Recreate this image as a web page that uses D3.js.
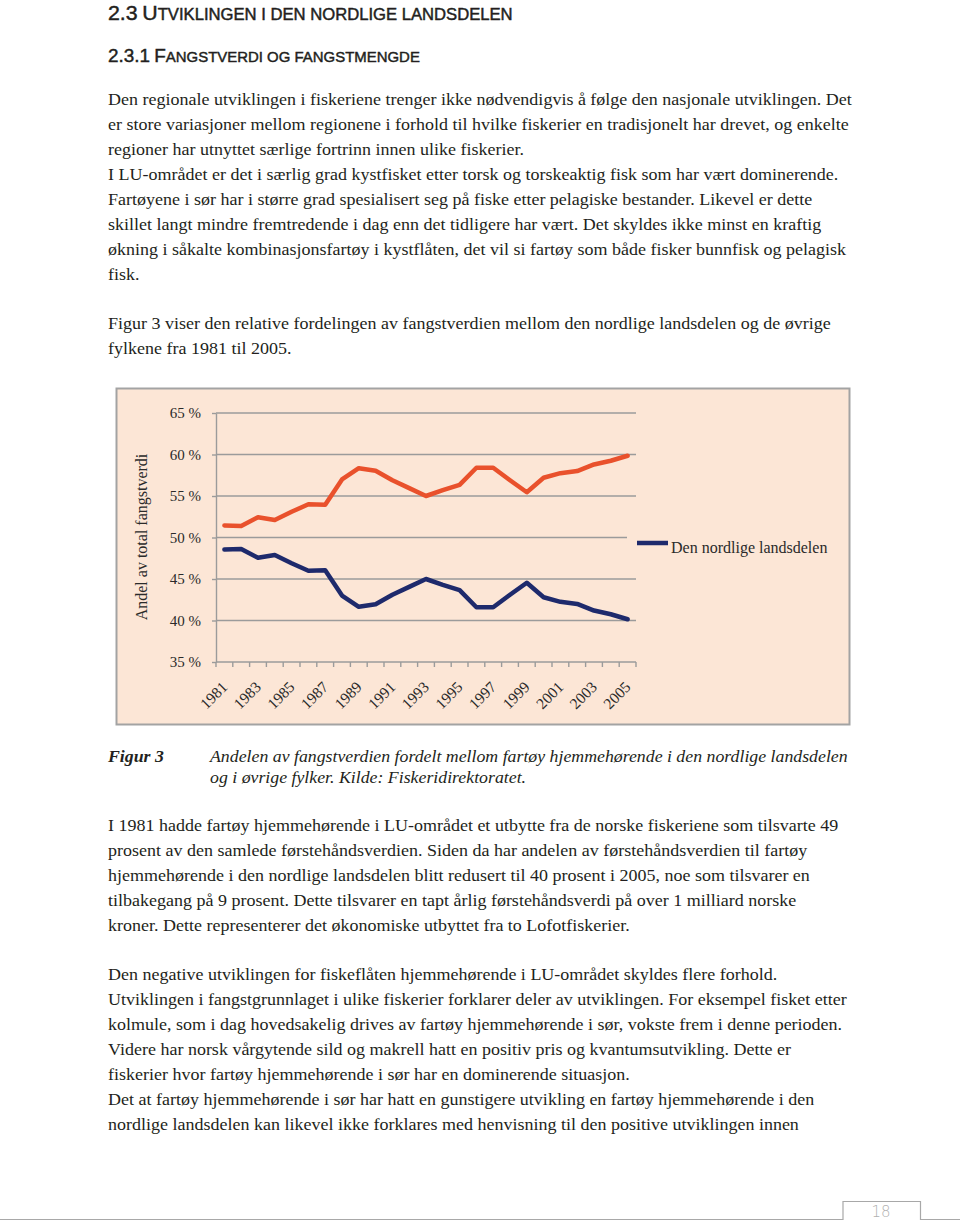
<!DOCTYPE html>
<html><head><meta charset="utf-8">
<script src="https://cdn.jsdelivr.net/npm/d3@7"></script>
<style>body{margin:0;background:#fff}svg{display:block}</style>
</head><body>
<svg id="page" width="960" height="1223"></svg>
<script>
// ---------- data ----------
const years = ["1981","1982","1983","1984","1985","1986","1987","1988","1989","1990","1991","1992","1993","1994","1995","1996","1997","1998","1999","2000","2001","2002","2003","2004","2005"];
const xTickLabels = ["1981","1983","1985","1987","1989","1991","1993","1995","1997","1999","2001","2003","2005"];
const yTicks = [35, 40, 45, 50, 55, 60, 65];
const seriesNorth = [48.55, 48.6, 47.55, 47.9, 46.9, 46.0, 46.05, 43.0, 41.65, 41.95, 43.1, 44.05, 45.0, 44.3, 43.65, 41.6, 41.6, 43.1, 44.55, 42.8, 42.25, 42.0, 41.2, 40.75, 40.15];
const seriesOther = [51.45, 51.4, 52.45, 52.1, 53.1, 54.0, 53.95, 57.0, 58.35, 58.05, 56.9, 55.95, 55.0, 55.7, 56.35, 58.4, 58.4, 56.9, 55.45, 57.2, 57.75, 58.0, 58.8, 59.25, 59.85];
const legendLabel = "Den nordlige landsdelen";
const yTitle = "Andel av total fangstverdi";

const heading1 = "2.3 Utviklingen i den nordlige landsdelen";
const heading2 = "2.3.1 Fangstverdi og fangstmengde";
const para1 = [
 "Den regionale utviklingen i fiskeriene trenger ikke nødvendigvis å følge den nasjonale utviklingen. Det",
 "er store variasjoner mellom regionene i forhold til hvilke fiskerier en tradisjonelt har drevet, og enkelte",
 "regioner har utnyttet særlige fortrinn innen ulike fiskerier.",
 "I LU-området er det i særlig grad kystfisket etter torsk og torskeaktig fisk som har vært dominerende.",
 "Fartøyene i sør har i større grad spesialisert seg på fiske etter pelagiske bestander. Likevel er dette",
 "skillet langt mindre fremtredende i dag enn det tidligere har vært. Det skyldes ikke minst en kraftig",
 "økning i såkalte kombinasjonsfartøy i kystflåten, det vil si fartøy som både fisker bunnfisk og pelagisk",
 "fisk."
];
const para2 = [
 "Figur 3 viser den relative fordelingen av fangstverdien mellom den nordlige landsdelen og de øvrige",
 "fylkene fra 1981 til 2005."
];
const captionLabel = "Figur 3";
const captionLines = [
 "Andelen av fangstverdien fordelt mellom fartøy hjemmehørende i den nordlige landsdelen",
 "og i øvrige fylker. Kilde: Fiskeridirektoratet."
];
const para3 = [
 "I 1981 hadde fartøy hjemmehørende i LU-området et utbytte fra de norske fiskeriene som tilsvarte 49",
 "prosent av den samlede førstehåndsverdien. Siden da har andelen av førstehåndsverdien til fartøy",
 "hjemmehørende i den nordlige landsdelen blitt redusert til 40 prosent i 2005, noe som tilsvarer en",
 "tilbakegang på 9 prosent. Dette tilsvarer en tapt årlig førstehåndsverdi på over 1 milliard norske",
 "kroner. Dette representerer det økonomiske utbyttet fra to Lofotfiskerier."
];
const para4 = [
 "Den negative utviklingen for fiskeflåten hjemmehørende i LU-området skyldes flere forhold.",
 "Utviklingen i fangstgrunnlaget i ulike fiskerier forklarer deler av utviklingen. For eksempel fisket etter",
 "kolmule, som i dag hovedsakelig drives av fartøy hjemmehørende i sør, vokste frem i denne perioden.",
 "Videre har norsk vårgytende sild og makrell hatt en positiv pris og kvantumsutvikling. Dette er",
 "fiskerier hvor fartøy hjemmehørende i sør har en dominerende situasjon.",
 "Det at fartøy hjemmehørende i sør har hatt en gunstigere utvikling en fartøy hjemmehørende i den",
 "nordlige landsdelen kan likevel ikke forklares med henvisning til den positive utviklingen innen"
];
const pageNumber = "18";

// ---------- page ----------
const TEXT = "#231F20";
const SERIF = "'Liberation Serif', 'Times New Roman', 'DejaVu Serif', serif";
const svg = d3.select("#page");
svg.append("rect").attr("width", 960).attr("height", 1223).attr("fill", "#fff");

function measure(str, font) {
  const t = svg.append("text").attr("font-family", font.family).attr("font-size", font.size)
    .attr("font-style", font.style || "normal").attr("font-weight", font.weight || "normal").text(str);
  const w = t.node().getComputedTextLength(); t.remove(); return w;
}
const bodyFont = {family: SERIF, size: 17.5};
const bodySx = 744 / measure(para1[0], bodyFont);

function block(lines, x, y0, lh, font, sx) {
  lines.forEach((s, i) => {
    svg.append("text")
      .attr("transform", `translate(${x},${y0 + i * lh}) scale(${sx},1)`)
      .attr("font-family", font.family).attr("font-size", font.size)
      .attr("font-style", font.style || "normal").attr("font-weight", font.weight || "normal")
      .attr("fill", TEXT).text(s);
  });
}
block(para1, 108, 105, 25, bodyFont, bodySx);
block(para2, 108, 329, 25, bodyFont, bodySx);
block(para3, 108, 831, 25, bodyFont, bodySx);
block(para4, 108, 980, 25, bodyFont, bodySx);

// caption
const capFont = {family: SERIF, size: 17.5, style: "italic"};
const capSx = 638 / measure(captionLines[0], capFont);
block(captionLines, 210, 762, 21, capFont, capSx);
block([captionLabel], 108, 762, 21, {family: SERIF, size: 17.5, style: "italic", weight: "bold"}, capSx);

// headings in small caps
function smallCaps(str, x, y, big, small, targetW) {
  const t = svg.append("text").attr("font-family", "'Liberation Sans', Arial, sans-serif")
    .attr("fill", TEXT).attr("stroke", TEXT).attr("stroke-width", 0.45);
  let runs = [];
  for (const ch of str) {
    const isBig = /[0-9.A-ZÆØÅ]/.test(ch);
    const size = isBig ? big : small;
    const c = ch.toUpperCase();
    if (runs.length && runs[runs.length - 1].size === size) runs[runs.length - 1].txt += c;
    else runs.push({size, txt: c});
  }
  runs.forEach(r => t.append("tspan").attr("font-size", r.size).text(r.txt));
  const w = t.node().getComputedTextLength();
  t.attr("transform", `translate(${x},${y}) scale(${targetW / w},1)`);
}
smallCaps(heading1, 108, 19.5, 20.5, 16, 405);
smallCaps(heading2, 108, 61.5, 19, 15, 312);

// page number tab
svg.append("path")
  .attr("d", "M0,1219.5 H843 V1201.5 H920.5 V1219.5 H960")
  .attr("fill", "none").attr("stroke", "#a8a8a8").attr("stroke-width", 1.2);
svg.append("text").attr("x", 881).attr("y", 1217).attr("text-anchor", "middle")
  .attr("font-family", "DejaVu Sans").attr("font-weight", "200").attr("font-size", 15)
  .attr("fill", "#b0b0b0").text(pageNumber);

// ---------- chart ----------
const BG = "#FCE6D6";
const ORANGE = "#E9512C";
const NAVY = "#1E2A6C";
const GRID = "#9b9b9b";
const AX = "#2a2a2a";

svg.append("rect").attr("x", 116.5).attr("y", 388.5).attr("width", 733).attr("height", 336)
  .attr("fill", BG).attr("stroke", "#a3a3a3").attr("stroke-width", 2);

const x = d3.scaleBand().domain(years).range([216, 636]).padding(0);
const y = d3.scaleLinear().domain([35, 65]).range([662, 413]);
const bw = x.bandwidth();

const chart = svg.append("g");
chart.append("g").selectAll("line").data(yTicks.filter(v => v > 35)).join("line")
  .attr("x1", 216).attr("x2", 636).attr("y1", d => y(d)).attr("y2", d => y(d))
  .attr("stroke", GRID).attr("stroke-width", 1.4);

const yAxis = chart.append("g").attr("transform", "translate(216,0)")
  .call(d3.axisLeft(y).tickValues(yTicks).tickSize(4).tickSizeOuter(0).tickPadding(11).tickFormat(d => d + " %"));
yAxis.select(".domain").attr("stroke", GRID).attr("stroke-width", 1.4);
yAxis.selectAll(".tick line").attr("stroke", GRID).attr("stroke-width", 1.4);
yAxis.selectAll(".tick text").attr("font-family", SERIF).attr("font-size", 15).attr("fill", AX);

const xb = chart.append("g");
xb.append("line").attr("x1", 216).attr("x2", 636).attr("y1", y(35)).attr("y2", y(35))
  .attr("stroke", GRID).attr("stroke-width", 1.4);
const boundaries = years.map(d => x(d)).concat([x.range()[1]]);
xb.selectAll("line.t").data(boundaries).join("line").attr("class", "t")
  .attr("x1", d => d).attr("x2", d => d).attr("y1", y(35)).attr("y2", y(35) + 5)
  .attr("stroke", GRID).attr("stroke-width", 1.4);
xb.selectAll("text").data(xTickLabels).join("text")
  .attr("transform", d => `translate(${x(d) + bw / 2 + 4},${y(35) + 26}) rotate(-45)`)
  .attr("text-anchor", "end").attr("font-family", SERIF).attr("font-size", 15.5)
  .attr("fill", AX).text(d => d);

chart.append("text").attr("transform", "translate(147,537) rotate(-90)")
  .attr("text-anchor", "middle").attr("font-family", SERIF).attr("font-size", 16)
  .attr("fill", AX).text(yTitle);

chart.append("rect").attr("x", 627).attr("y", 527).attr("width", 218).attr("height", 34).attr("fill", BG);
chart.append("line").attr("x1", 637).attr("x2", 668).attr("y1", 543).attr("y2", 543)
  .attr("stroke", NAVY).attr("stroke-width", 4.5);
chart.append("text").attr("x", 671).attr("y", 553).attr("font-family", SERIF)
  .attr("font-size", 16).attr("fill", AX).text(legendLabel);

const line = d3.line().x((d, i) => x(years[i]) + bw / 2).y(d => y(d));
[[seriesOther, ORANGE], [seriesNorth, NAVY]].forEach(([data, col]) => {
  chart.append("path").datum(data).attr("d", line).attr("fill", "none")
    .attr("stroke", col).attr("stroke-width", 4.5)
    .attr("stroke-linejoin", "round").attr("stroke-linecap", "round");
});
</script>
</body></html>
